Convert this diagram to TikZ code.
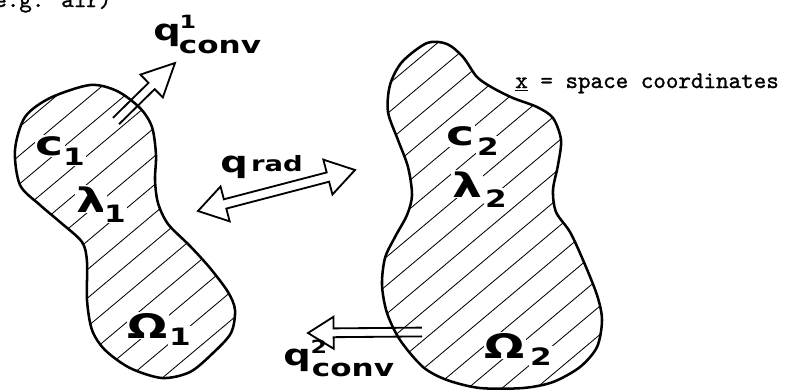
\documentclass[tikz,border=0pt]{standalone}
\usepackage{fontspec}
\newfontfamily\lblfont[FakeStretch=1.4]{DejaVu Sans Bold}
\newfontfamily\subfont[FakeStretch=1.3]{DejaVu Sans Bold}
\newfontfamily\twfont[FakeBold=1.2]{lmmono10-regular.otf}
\usetikzlibrary{calc}

% hollow arrow: [head length] tail, tip
\newcommand{\hollowarrow}[3][0.72cm]{%
  \coordinate (#3-n) at ($(#3)!#1!(#2)$);
  \draw[arrowline] ($(#2)!0.11cm!90:(#3)$) -- ($(#3-n)!0.11cm!90:(#3)$)
    -- ($(#3-n)!0.4cm!90:(#3)$) -- (#3) -- ($(#3-n)!0.4cm!-90:(#3)$)
    -- ($(#3-n)!0.11cm!-90:(#3)$) -- ($(#2)!0.11cm!-90:(#3)$);}
% hollow arrow with two heads
\newcommand{\hollowdarrow}[2]{%
  \coordinate (#1-n) at ($(#1)!0.7cm!(#2)$);
  \coordinate (#2-n) at ($(#2)!0.7cm!(#1)$);
  \draw[arrowline] ($(#1-n)!0.12cm!90:(#2)$) -- ($(#2-n)!0.12cm!90:(#2)$)
    -- ($(#2-n)!0.45cm!90:(#2)$) -- (#2) -- ($(#2-n)!0.45cm!-90:(#2)$)
    -- ($(#2-n)!0.12cm!-90:(#2)$) -- ($(#1-n)!0.12cm!-90:(#2)$)
    -- ($(#1-n)!0.45cm!-90:(#2)$) -- (#1) -- ($(#1-n)!0.45cm!90:(#2)$) -- cycle;}

\begin{document}
\begin{tikzpicture}[x=0.025cm, y=-0.025cm,
  blob/.style={line width=1.8pt},
  hatch/.style={line width=0.6pt},
  arrowline/.style={line width=1.3pt},
  mainlbl/.style={font=\lblfont\fontsize{24}{24}\selectfont, inner sep=1pt, anchor=base},
  qlbl/.style={font=\subfont\fontsize{21}{21}\selectfont, inner sep=0pt, anchor=base},
  sublbl/.style={font=\subfont\fontsize{17}{17}\selectfont, inner sep=1pt, anchor=base},
  suplbl/.style={font=\subfont\fontsize{13}{13}\selectfont, inner sep=0pt, anchor=base},
  inblob/.style={fill=white},
  tw/.style={font=\twfont\fontsize{17}{17}\selectfont, inner sep=0pt, anchor=base west}]
\useasboundingbox (0,0) rectangle (787,389);

% the two bodies
\path[save path=\leftpath] plot[smooth cycle] coordinates {(15,150) (25,117) (50,98)
  (90,85) (117,91) (140,108) (152,127) (156,155) (155,180) (158,203) (168,224)
  (190,246) (210,268) (228,292) (235,310) (231,333) (213,353) (190,372) (162,378)
  (130,368) (105,350) (92,330) (87,300) (87,262) (82,242) (60,222) (40,205) (20,185)};
\path[save path=\rightpath] plot[smooth cycle] coordinates {(427,43) (447,44) (463,57)
  (477,77) (493,88) (513,98) (537,107) (553,118) (561,140) (558,165) (553,190)
  (556,212) (570,232) (583,260) (597,295) (602,320) (597,347) (580,367) (553,382)
  (523,388) (480,388) (447,380) (423,367) (400,340) (387,313) (382,285) (385,258)
  (395,237) (407,215) (412,195) (408,167) (398,140) (388,112) (390,85) (402,62)};
\begin{scope}
\clip[use path=\leftpath];
\foreach \k in {-16,...,20} \draw[hatch] (\k*34,400) -- ++(-40:700);
\end{scope}
\begin{scope}
\clip[use path=\rightpath];
\foreach \k in {-16,...,20} \draw[hatch] (\k*34+12,400) -- ++(-40:700);
\end{scope}
\draw[blob, use path=\leftpath];
\draw[blob, use path=\rightpath];

% body 1
\node[mainlbl, inblob] (c1) at (50,155) {c};
\node[sublbl, inblob] (c1i) at (74,165) {1};
\node[mainlbl, inblob] (lam1) at (91,212) {λ};
\node[sublbl, inblob] (lam1i) at (115,222) {1};
\node[mainlbl, inblob] (om1) at (148,338) {Ω};
\node[sublbl, inblob] (om1i) at (180,345) {1};
% body 2
\node[mainlbl, inblob] (c2) at (460,145) {c};
\node[sublbl, inblob] (c2i) at (488,155) {2};
\node[mainlbl, inblob] (lam2) at (467,197) {λ};
\node[sublbl, inblob] (lam2i) at (496,207) {2};
\node[mainlbl, inblob] (om2) at (505,358) {Ω};
\node[sublbl, inblob] (om2i) at (541,365) {2};

% fluxes
\node[qlbl] (qc1) at (167,40) {q};
\node[suplbl] (qc1s) at (188,28) {1};
\node[sublbl] (qc1i) at (220,53) {conv};
\node[qlbl] (qr) at (234,172) {q};
\node[sublbl, font=\subfont\fontsize{15}{15}\selectfont] (qri) at (277,171) {rad};
\node[qlbl] (qc2) at (297,365) {q};
\node[suplbl] (qc2s) at (319,353) {2};
\node[sublbl] (qc2i) at (353,376) {conv};

\coordinate (qc1tail) at (116,121);
\coordinate (qc1tip) at (175,63);
\coordinate (qrleft) at (198,211);
\coordinate (qrright) at (355,170);
\coordinate (qc2tail) at (422,332);
\coordinate (qc2tip) at (308,333);
\hollowarrow[0.82cm]{qc1tail}{qc1tip}
\hollowdarrow{qrleft}{qrright}
\hollowarrow[0.64cm]{qc2tail}{qc2tip}

\node[tw] (airnote) at (-6,7) {e.g. air)};
\node[tw] (xnote) at (515,88) {\underline{x} = space coordinates};
\end{tikzpicture}
\end{document}
